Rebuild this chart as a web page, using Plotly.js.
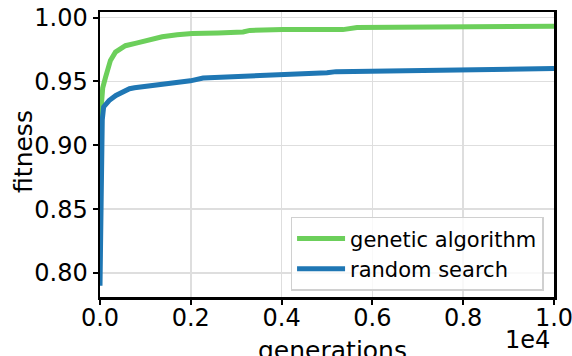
<!DOCTYPE html>
<html>
<head>
<meta charset="utf-8">
<script src="https://cdn.plot.ly/plotly-3.0.1.min.js"></script>
<style>html,body{margin:0;padding:0;background:#fff;}#chart{width:572px;height:356px;}</style>
</head>
<body>
<div id="chart"></div>
<script>
// Data
const gaGenerations = [0, 30, 60, 120, 230, 340, 450, 560, 800, 1000, 1370, 1700, 2030, 2600, 3150, 3300, 4030, 5350, 5660, 7330, 10000];
const gaFitness     = [0.918, 0.935, 0.945, 0.953, 0.9665, 0.973, 0.976, 0.978, 0.980, 0.982, 0.985, 0.9865, 0.9875, 0.988, 0.9887, 0.990, 0.9906, 0.9906, 0.9922, 0.9926, 0.9932];

const rsGenerations = [0, 15, 35, 50, 80, 200, 350, 500, 650, 760, 1000, 1370, 1700, 1990, 2270, 3230, 3990, 5000, 5200, 6000, 7330, 8080, 10000];
const rsFitness     = [0.790, 0.860, 0.905, 0.920, 0.930, 0.935, 0.939, 0.9417, 0.9443, 0.9451, 0.9461, 0.9477, 0.9487, 0.9505, 0.9527, 0.954, 0.9558, 0.9568, 0.9577, 0.9581, 0.9595, 0.960, 0.9601];

const seriesNames = ['genetic algorithm', 'random search'];
const xTitle = 'generations';
const yTitle = 'fitness';
const xOffsetText = '1e4';
const xTickVals = [0, 2000, 4000, 6000, 8000, 10000];
const xTickText = ['0.0', '0.2', '0.4', '0.6', '0.8', '1.0'];
const yTickVals = [0.80, 0.85, 0.90, 0.95, 1.00];
const yTickText = ['0.80', '0.85', '0.90', '0.95', '1.00'];

const font = 'DejaVu Sans, sans-serif';

const traces = [
  {x: gaGenerations, y: gaFitness, name: seriesNames[0], mode: 'lines',
   line: {color: '#6ccf5b', width: 5}},
  {x: rsGenerations, y: rsFitness, name: seriesNames[1], mode: 'lines',
   line: {color: '#1f77b4', width: 5}}
];

const axisCommon = {
  showline: true, linecolor: '#000', linewidth: 2.5, mirror: true,
  ticks: 'outside', ticklen: 5, tickwidth: 2, tickcolor: '#000',
  showgrid: true, gridcolor: '#dedede', gridwidth: 1.5,
  zeroline: false, ticklabeloverflow: 'allow',
  tickfont: {family: font, size: 24, color: '#000'}
};

const layout = {
  width: 572, height: 356,
  margin: {l: 100, r: 18, t: 12, b: 59},
  paper_bgcolor: '#fff', plot_bgcolor: '#fff',
  font: {family: font, color: '#000'},
  xaxis: Object.assign({}, axisCommon, {
    range: [0, 10000], tickmode: 'array', tickvals: xTickVals, ticktext: xTickText,
    ticklabelstandoff: -7
  }),
  yaxis: Object.assign({}, axisCommon, {
    range: [0.7812, 1.0044], tickmode: 'array', tickvals: yTickVals, ticktext: yTickText
  }),
  showlegend: true,
  legend: {
    x: 0.977, y: 0.281, xanchor: 'right', yanchor: 'top', itemwidth: 48,
    bgcolor: 'rgba(255,255,255,0.8)', bordercolor: '#d0d0d0', borderwidth: 1.5,
    font: {family: font, size: 21, color: '#000'}
  },
  annotations: [
    {text: xOffsetText, xref: 'paper', yref: 'paper', x: 0.9956, y: -0.15, xanchor: 'right', yanchor: 'middle',
     showarrow: false, font: {family: font, size: 24, color: '#000'}},
    {text: xTitle, xref: 'paper', yref: 'paper', x: 0.512, y: -0.187, xanchor: 'center', yanchor: 'middle',
     showarrow: false, font: {family: font, size: 25, color: '#000'}},
    {text: yTitle, xref: 'paper', yref: 'paper', x: -0.169, y: 0.51, xanchor: 'center', yanchor: 'middle',
     textangle: -90, showarrow: false, font: {family: font, size: 25, color: '#000'}}
  ]
};

Plotly.newPlot('chart', traces, layout, {displayModeBar: false, staticPlot: true});
</script>
</body>
</html>
